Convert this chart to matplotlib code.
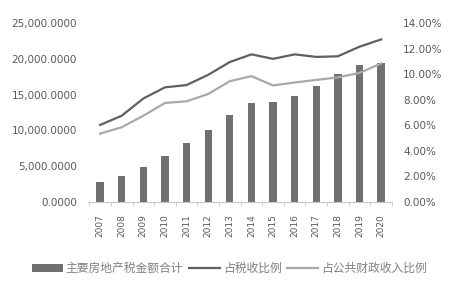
import numpy as np
import matplotlib
matplotlib.use("Agg")
import matplotlib.pyplot as plt
from matplotlib.ticker import FuncFormatter, FixedLocator

plt.rcParams["font.family"] = ["Noto Sans CJK SC", "DejaVu Sans"]

years = ["2007", "2008", "2009", "2010", "2011", "2012", "2013",
         "2014", "2015", "2016", "2017", "2018", "2019", "2020"]
tax_total = [2740, 3630, 4860, 6460, 8270, 10050, 12170,
             13790, 13970, 14800, 16240, 17880, 19100, 19450]
share_tax = [6.03, 6.75, 8.1, 8.97, 9.15, 9.95, 10.95,
             11.55, 11.2, 11.55, 11.35, 11.4, 12.15, 12.72]
share_fiscal = [5.35, 5.85, 6.75, 7.75, 7.88, 8.45, 9.45,
                9.85, 9.12, 9.35, 9.55, 9.75, 10.1, 10.84]
labels = ["主要房地产税金额合计", "占税收比例", "占公共财政收入比例"]

BAR = "#707070"; DARK = "#606060"; LIGHT = "#a9a9a9"; TXT = "#595959"

fig = plt.figure(figsize=(4.5, 2.81), dpi=100)
ax = fig.add_axes([0.196, 0.281, 0.675, 0.637])
x = np.arange(len(years))
b = ax.bar(x, tax_total, width=0.34, color=BAR, zorder=2)
ax.set_xlim(-0.55, 13.5); ax.set_ylim(0, 25000)
ax.set_yticks(np.arange(0, 25001, 5000))
ax.yaxis.set_major_formatter(FuncFormatter(lambda v, p: f"{v:,.4f}"))
ax.set_xticks(x); ax.set_xticklabels(years, rotation=90, fontsize=6.5, color=TXT, family="DejaVu Sans")
ax.xaxis.set_minor_locator(FixedLocator(np.arange(-0.5, 14, 1)))
ax.tick_params(axis="x", which="major", length=0, pad=9)
ax.tick_params(axis="x", which="minor", length=3, color="#c8c8c8")
ax.tick_params(axis="y", length=0, labelsize=7.5, labelcolor=TXT, pad=8)
for t in ax.get_yticklabels():
    t.set_family("DejaVu Sans")
for s in ["top", "right", "left"]:
    ax.spines[s].set_visible(False)
ax.spines["bottom"].set_color("#c8c8c8")

ax2 = ax.twinx()
l1, = ax2.plot(x, share_tax, color=DARK, lw=1.6, zorder=3)
l2, = ax2.plot(x, share_fiscal, color=LIGHT, lw=1.6, zorder=3)
ax2.set_ylim(0, 14)
ax2.set_yticks(np.arange(0, 14.1, 2))
ax2.yaxis.set_major_formatter(FuncFormatter(lambda v, p: f"{v:.2f}%"))
ax2.tick_params(axis="y", length=0, labelsize=7.5, labelcolor=TXT, pad=8)
for t in ax2.get_yticklabels():
    t.set_family("DejaVu Sans")
for s in ["top", "right", "left", "bottom"]:
    ax2.spines[s].set_visible(False)

leg = fig.legend([b, l1, l2], labels, loc="center", bbox_to_anchor=(0.51, 0.045), ncol=3,
                 frameon=False, fontsize=8.5, handlelength=2.6, handletextpad=0.25, columnspacing=0.5,
                 labelcolor="#808080")
fig.savefig("out.png", dpi=100)
